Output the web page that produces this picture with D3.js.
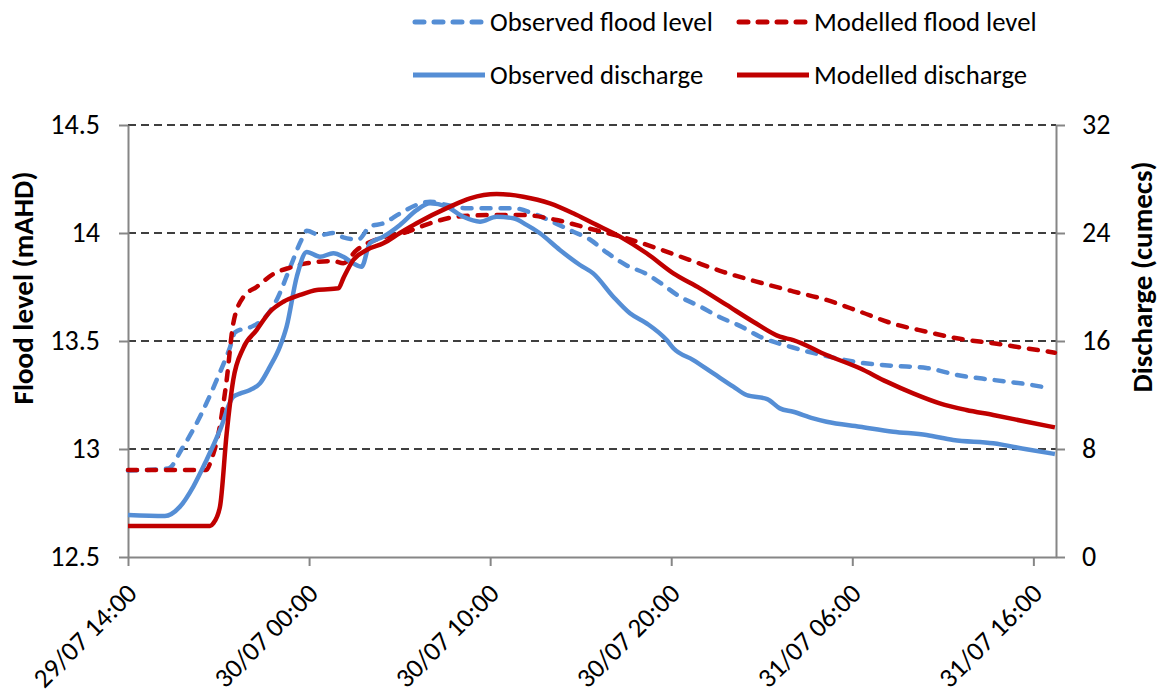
<!DOCTYPE html>
<html>
<head>
<style>
    body { margin: 0; background: #fff; }
    svg text { font-family: Carlito, Lato, "Open Sans", sans-serif; fill: #000; }
    .tick-label { font-size: 28px; }
    .x-label { font-size: 27px; }
    .axis-title { font-size: 29px; font-weight: bold; }
    .legend-text { font-size: 26.7px; }
</style>
<script src="https://d3js.org/d3.v7.min.js"></script>
</head>
<body>

<svg width="1163" height="699"></svg>

<script>

    // hours after 29/07 14:00 and values
    var obsLevelHours = [0, 2.23, 2.97, 3.98, 4.9, 5.63, 5.91, 6.92, 7.47, 8.21, 8.95, 9.59, 9.87, 10.6, 11.34, 11.89, 12.72, 13.36, 14.1, 15.02, 15.94, 16.68, 17.6, 18.7, 19.99, 21.28, 22.38, 23.48, 24.59, 25.51, 26.43, 27.54, 28.64, 29.38, 30.48, 31.59, 32.69, 33.79, 34.9, 36.72, 38.58, 40.42, 42.24, 44.1, 45.94, 47.76, 49.62, 50.69];
    var obsLevel = [12.9, 12.91, 13.0, 13.15, 13.32, 13.47, 13.54, 13.57, 13.6, 13.69, 13.84, 13.97, 14.01, 13.99, 14.0, 13.98, 13.97, 14.03, 14.045, 14.09, 14.13, 14.145, 14.13, 14.115, 14.115, 14.115, 14.09, 14.05, 14.006, 13.97, 13.91, 13.85, 13.81, 13.77, 13.705, 13.66, 13.61, 13.57, 13.52, 13.47, 13.43, 13.4, 13.385, 13.375, 13.34, 13.32, 13.3, 13.285];

    var modLevelHours = [0, 4.32, 4.6, 4.99, 5.45, 5.81, 6.38, 7.1, 8.02, 8.95, 9.87, 11.34, 11.89, 12.62, 14.1, 15.2, 16.68, 18.15, 19.99, 21.83, 23.67, 25.51, 27.35, 29.19, 31.03, 32.87, 34.71, 36.72, 38.58, 40.42, 42.26, 44.1, 45.94, 47.78, 49.62, 51.19];
    var modLevel = [12.903, 12.903, 12.95, 13.07, 13.32, 13.58, 13.705, 13.75, 13.81, 13.84, 13.86, 13.87, 13.86, 13.92, 13.98, 14.0, 14.045, 14.075, 14.083, 14.083, 14.06, 14.02, 13.98, 13.93, 13.875, 13.82, 13.775, 13.73, 13.69, 13.636, 13.58, 13.543, 13.51, 13.49, 13.466, 13.446];

    var obsQHours = [0, 2.04, 2.87, 3.6, 4.34, 5.08, 5.81, 6.18, 6.74, 7.29, 7.84, 8.39, 8.76, 9.32, 9.87, 10.6, 11.34, 11.89, 12.44, 12.9, 13.36, 14.1, 15.02, 15.94, 16.68, 17.6, 18.52, 19.44, 20.36, 21.28, 22.01, 22.75, 23.85, 24.96, 25.69, 26.8, 27.72, 28.64, 29.75, 30.12, 31.22, 32.33, 33.43, 34.16, 35.3, 36.0, 36.74, 37.84, 38.58, 40.42, 42.26, 44.1, 45.57, 47.78, 49.62, 51.19];
    var obsQ = [3.11, 3.04, 3.73, 5.2, 7.19, 9.4, 11.87, 12.1, 12.37, 12.86, 14.1, 15.58, 17.06, 20.76, 22.6, 22.24, 22.5, 22.24, 21.75, 21.5, 23.24, 23.73, 24.6, 25.7, 26.2, 25.95, 25.2, 24.84, 25.2, 25.09, 24.6, 23.98, 22.74, 21.63, 21.01, 19.28, 18.05, 17.31, 16.07, 15.46, 14.59, 13.6, 12.62, 12.0, 11.7, 11.01, 10.76, 10.27, 10.02, 9.65, 9.28, 9.04, 8.67, 8.42, 7.98, 7.63];

    var modQHours = [0, 4.53, 4.71, 5.08, 5.45, 5.81, 6.36, 7.1, 7.84, 8.58, 9.5, 10.42, 11.62, 11.89, 12.44, 13.18, 14.1, 15.02, 15.94, 17.78, 18.89, 20.36, 21.83, 23.3, 24.59, 25.69, 27.17, 28.64, 30.12, 31.59, 33.06, 34.53, 36.0, 36.74, 38.58, 40.42, 41.89, 43.36, 44.83, 46.3, 47.78, 49.62, 51.19];
    var modQ = [2.3, 2.3, 2.49, 3.73, 9.16, 13.1, 15.46, 16.81, 18.17, 18.91, 19.41, 19.78, 19.9, 20.64, 22.0, 22.74, 23.24, 24.0, 24.72, 25.95, 26.57, 26.89, 26.69, 26.2, 25.46, 24.72, 23.73, 22.5, 21.01, 19.9, 18.67, 17.43, 16.32, 16.07, 14.96, 13.98, 12.99, 12.12, 11.38, 10.89, 10.52, 10.02, 9.6];

    var xTickHours = [0, 10, 20, 30, 40, 50];
    var xTickLabels = ["29/07 14:00", "30/07 00:00", "30/07 10:00", "30/07 20:00", "31/07 06:00", "31/07 16:00"];
    var levelTicks = [12.5, 13, 13.5, 14, 14.5];
    var dischargeTicks = [0, 8, 16, 24, 32];

    var seriesNames = ["Observed flood level", "Modelled flood level", "Observed discharge", "Modelled discharge"];

    var blue = "#558ed5";
    var red = "#c00000";
    var axisGrey = "#868686";

    var plotLeft = 128, plotRight = 1056, plotTop = 125, plotBottom = 557;

    var svg = d3.select("svg");

    var xScale = d3.scaleLinear().domain([0, 51.25]).range([plotLeft, plotRight]);
    var yLevel = d3.scaleLinear().domain([12.5, 14.5]).range([plotBottom, plotTop]);
    var yQ = d3.scaleLinear().domain([0, 32]).range([plotBottom, plotTop]);

    // dashed gridlines
    svg.append("g").selectAll("line")
        .data(levelTicks.slice(1))
        .enter().append("line")
        .attr("x1", plotLeft).attr("x2", plotRight)
        .attr("y1", function (d) { return yLevel(d); })
        .attr("y2", function (d) { return yLevel(d); })
        .attr("stroke", "#000")
        .attr("stroke-width", 1.5)
        .attr("stroke-dasharray", "8,5");

    // axes
    var leftAxis = svg.append("g")
        .attr("transform", "translate(" + plotLeft + ",0)")
        .call(d3.axisLeft(yLevel).tickValues(levelTicks).tickSize(9).tickSizeOuter(0).tickPadding(19)
            .tickFormat(d3.format("")));

    var rightAxis = svg.append("g")
        .attr("transform", "translate(" + plotRight + ",0)")
        .call(d3.axisRight(yQ).tickValues(dischargeTicks).tickSize(9).tickSizeOuter(0).tickPadding(17));

    var bottomAxis = svg.append("g")
        .attr("transform", "translate(0," + plotBottom + ")")
        .call(d3.axisBottom(xScale).tickValues(xTickHours).tickSize(9).tickSizeOuter(0)
            .tickFormat(function (d, i) { return xTickLabels[i]; }));

    [leftAxis, rightAxis, bottomAxis].forEach(function (a) {
        a.selectAll("path.domain").attr("stroke", axisGrey).attr("stroke-width", 2);
        a.selectAll(".tick line").attr("stroke", axisGrey).attr("stroke-width", 2);
        a.selectAll(".tick text").attr("class", "tick-label").attr("fill", "#000");
    });

    bottomAxis.selectAll(".tick text")
        .attr("class", "x-label")
        .attr("text-anchor", "end")
        .attr("dy", 0)
        .attr("y", 0)
        .attr("transform", "translate(10,38) rotate(-45)");

    // axis titles
    svg.append("text")
        .attr("class", "axis-title")
        .attr("text-anchor", "middle")
        .attr("transform", "translate(33,288) rotate(-90)")
        .text("Flood level (mAHD)");

    svg.append("text")
        .attr("class", "axis-title")
        .attr("text-anchor", "middle")
        .attr("transform", "translate(1152,277) rotate(-90)")
        .text("Discharge (cumecs)");

    // series
    function pairs(hours, values) {
        return hours.map(function (h, i) { return [h, values[i]]; });
    }

    var series = [
        { data: pairs(obsLevelHours, obsLevel), y: yLevel, color: blue, dash: "9,10" },
        { data: pairs(modLevelHours, modLevel), y: yLevel, color: red, dash: "9,10" },
        { data: pairs(obsQHours, obsQ), y: yQ, color: blue, dash: null },
        { data: pairs(modQHours, modQ), y: yQ, color: red, dash: null }
    ];

    var plot = svg.append("g");
    series.forEach(function (s) {
        var line = d3.line()
            .x(function (d) { return xScale(d[0]); })
            .y(function (d) { return s.y(d[1]); })
            .curve(d3.curveMonotoneX);
        plot.append("path")
            .datum(s.data)
            .attr("d", line)
            .attr("fill", "none")
            .attr("stroke", s.color)
            .attr("stroke-width", 4.5)
            .attr("stroke-linejoin", "round")
            .attr("stroke-linecap", s.dash ? "round" : "butt")
            .attr("stroke-dasharray", s.dash);
    });

    // legend
    var legendPos = [[413, 22], [737, 22], [413, 75], [737, 75]];
    var legend = svg.append("g");
    series.forEach(function (s, i) {
        var p = legendPos[i];
        legend.append("line")
            .attr("x1", p[0] + (s.dash ? 2 : 0)).attr("x2", p[0] + (s.dash ? 70 : 72))
            .attr("y1", p[1]).attr("y2", p[1])
            .attr("stroke", s.color)
            .attr("stroke-width", 5)
            .attr("stroke-linecap", s.dash ? "round" : "butt")
            .attr("stroke-dasharray", s.dash);
        legend.append("text")
            .attr("class", "legend-text")
            .attr("x", p[0] + 77)
            .attr("y", p[1])
            .attr("dy", "0.35em")
            .text(seriesNames[i]);
    });
</script>
</body>
</html>
